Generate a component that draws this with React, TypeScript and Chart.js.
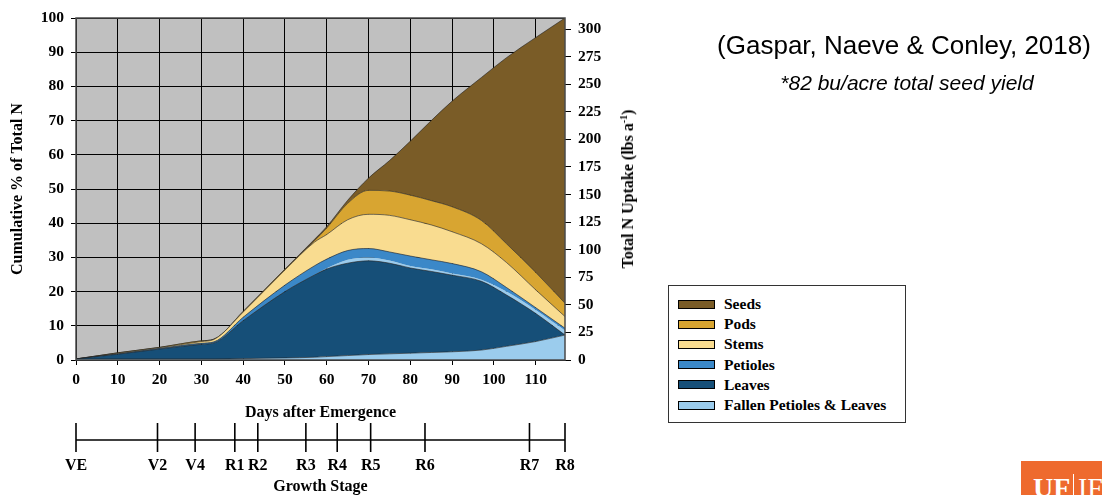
import React, { useEffect, useRef } from 'react';
import { Chart, registerables } from 'chart.js';

Chart.register(...registerables);

// Days after emergence at which the cumulative curves were read
const days = [0, 10, 20, 30, 33, 40, 50, 57, 60, 65, 70, 75, 80, 85, 90, 97, 103, 110, 117];

// Cumulative % of total N (top edge of each stacked layer)
const fallenPL = [0.3, 0.3, 0.3, 0.3, 0.3, 0.4, 0.6, 0.8, 1.0, 1.3, 1.6, 1.8, 2.0, 2.2, 2.4, 2.9, 4.0, 5.4, 7.3];
const leaves = [0.3, 1.7, 3.2, 4.6, 5.0, 11.5, 20.0, 24.8, 26.6, 28.3, 29.0, 28.3, 26.9, 25.9, 24.8, 23.0, 19.0, 13.6, 7.3];
const fallenUpper = [0.3, 1.7, 3.2, 4.6, 5.0, 11.5, 20.0, 24.8, 26.8, 29.3, 30.0, 29.1, 27.5, 26.5, 25.3, 23.5, 20.0, 14.6, 8.6];
const petioles = [0.3, 1.8, 3.4, 4.9, 5.3, 12.5, 21.9, 27.5, 29.5, 32.0, 32.6, 31.6, 30.4, 29.3, 28.2, 25.8, 21.2, 15.3, 9.3];
const stems = [0.3, 2.0, 3.6, 5.4, 6.0, 14.0, 26.3, 34.4, 36.7, 41.0, 42.6, 42.3, 41.0, 39.5, 37.5, 34.0, 28.5, 20.5, 12.7];
const pods = [0.3, 2.1, 3.7, 5.6, 6.1, 14.2, 26.6, 34.8, 38.6, 45.8, 49.6, 49.4, 48.2, 46.6, 44.8, 40.8, 34.0, 25.6, 16.6];
const seeds = [0.3, 2.1, 3.7, 5.6, 6.1, 14.2, 26.6, 35.2, 39.0, 46.7, 53.2, 58.3, 64.0, 70.0, 75.7, 82.6, 88.4, 94.3, 100];

// Growth stages along the day axis
const stageLabels = ['VE', 'V2', 'V4', 'R1', 'R2', 'R3', 'R4', 'R5', 'R6', 'R7', 'R8'];
const stageDays = [0, 19.5, 28.5, 38, 43.5, 55, 62.5, 70.5, 83.5, 108.5, 117];

const legendNames = ['Seeds', 'Pods', 'Stems', 'Petioles', 'Leaves', 'Fallen Petioles & Leaves'];

const C_SEEDS = '#7a5c27';
const C_PODS = '#d8a531';
const C_STEMS = '#f9dc90';
const C_PETIOLES = '#3b88c8';
const C_LEAVES = '#164f78';
const C_FALLEN = '#9bcced';
const C_PLOT = '#c0c0c0';
const legendColors = [C_SEEDS, C_PODS, C_STEMS, C_PETIOLES, C_LEAVES, C_FALLEN];

const SERIF = "'Liberation Serif', 'Times New Roman', serif";
const SANS = "'Liberation Sans', Arial, sans-serif";

export default function App() {
  const ref = useRef<HTMLCanvasElement>(null);

  useEffect(() => {
    const canvas = ref.current!;
    const mk = (label: string, vals: number[], color: string, fill: any, border = true) => ({
      label,
      data: days.map((d, i) => ({ x: d, y: vals[i] })),
      backgroundColor: color,
      borderColor: border ? 'rgba(30,30,30,0.85)' : 'rgba(0,0,0,0)',
      borderWidth: border ? 0.7 : 0,
      fill,
      pointRadius: 0,
      cubicInterpolationMode: 'monotone' as const,
      yAxisID: 'y',
    });

    const bgPlugin = {
      id: 'plotBg',
      beforeDraw(chart: any) {
        const { ctx, chartArea: a } = chart;
        ctx.save();
        ctx.fillStyle = C_PLOT;
        ctx.fillRect(a.left, a.top, a.right - a.left, a.bottom - a.top);
        ctx.restore();
      },
    };

    const framePlugin = {
      id: 'frame',
      afterDatasetsDraw(chart: any) {
        const { ctx, chartArea: a } = chart;
        ctx.save();
        ctx.strokeStyle = '#4a4a4a';
        ctx.lineWidth = 1.5;
        ctx.strokeRect(a.left, a.top, a.right - a.left, a.bottom - a.top);
        ctx.restore();
      },
    };

    const stagePlugin = {
      id: 'stages',
      afterDraw(chart: any) {
        const { ctx, chartArea: a } = chart;
        const xs = chart.scales.x;
        const lineY = 440;
        ctx.save();
        ctx.strokeStyle = '#000';
        ctx.lineWidth = 1.6;
        ctx.beginPath();
        ctx.moveTo(xs.getPixelForValue(stageDays[0]), lineY);
        ctx.lineTo(xs.getPixelForValue(stageDays[stageDays.length - 1]), lineY);
        ctx.stroke();
        ctx.fillStyle = '#000';
        ctx.font = `bold 16px ${SERIF}`;
        ctx.textAlign = 'center';
        ctx.textBaseline = 'middle';
        stageDays.forEach((d, i) => {
          const px = xs.getPixelForValue(d);
          ctx.beginPath();
          ctx.moveTo(px, 423);
          ctx.lineTo(px, 452);
          ctx.stroke();
          ctx.fillText(stageLabels[i], px, 466);
        });
        ctx.fillText('Growth Stage', (a.left + a.right) / 2, 487);
        ctx.restore();
      },
    };

    const tickFont = { family: SERIF, size: 15.5, weight: 'bold' as const };
    const titleFont = { family: SERIF, size: 16, weight: 'bold' as const };

    const chart = new Chart(canvas, {
      type: 'line',
      data: {
        datasets: [
          mk('Fallen Petioles & Leaves', fallenPL, C_FALLEN, 'origin'),
          mk('Leaves', leaves, C_LEAVES, '-1'),
          mk('', fallenUpper, C_FALLEN, '-1', false),
          mk('Petioles', petioles, C_PETIOLES, '-1'),
          mk('Stems', stems, C_STEMS, '-1'),
          mk('Pods', pods, C_PODS, '-1'),
          mk('Seeds', seeds, C_SEEDS, '-1'),
        ],
      },
      options: {
        responsive: false,
        animation: false,
        layout: { padding: { left: 0, right: 462, top: 18, bottom: 73 } },
        plugins: { legend: { display: false }, tooltip: { enabled: false } },
        scales: {
          x: {
            type: 'linear',
            min: 0,
            max: 117,
            afterFit(scale: any) { scale.height = 62; },
            ticks: { stepSize: 10, includeBounds: false, color: '#000', font: tickFont, padding: 6, maxRotation: 0 },
            grid: { color: '#000', lineWidth: 1, tickLength: 5 },
            border: { display: false },
            title: { display: true, text: 'Days after Emergence', color: '#000', font: titleFont, padding: { top: 0, bottom: 0 } },
          },
          y: {
            position: 'left',
            min: 0,
            max: 100,
            afterFit(scale: any) { scale.width = 76; },
            ticks: { stepSize: 10, color: '#000', font: tickFont, padding: 7 },
            grid: { color: '#000', lineWidth: 1, tickLength: 5 },
            border: { display: false },
            title: { display: true, text: 'Cumulative % of Total N', color: '#000', font: titleFont, padding: { top: 8, bottom: 0 } },
          },
          y2: {
            position: 'right',
            min: 0,
            max: 310,
            afterFit(scale: any) { scale.width = 75; },
            ticks: { stepSize: 25, includeBounds: false, color: '#000', font: tickFont, padding: 7 },
            grid: { drawOnChartArea: false, color: '#000', lineWidth: 1, tickLength: 6 },
            border: { display: false },
          },
        },
      },
      plugins: [bgPlugin, framePlugin, stagePlugin],
    } as any);

    return () => chart.destroy();
  }, []);

  return (
    <div style={{ position: 'absolute', left: 0, top: 0, width: 1102, height: 495, overflow: 'hidden', background: '#fff' }}>
      <canvas ref={ref} width={1102} height={495} style={{ position: 'absolute', left: 0, top: 0, width: 1102, height: 495 }} />

      <div
        style={{
          position: 'absolute', left: 628, top: 189, transform: 'translate(-50%, -50%) rotate(-90deg)',
          whiteSpace: 'nowrap', fontFamily: SERIF, fontWeight: 'bold', fontSize: 16, color: '#000', lineHeight: 1,
        }}
      >
        Total N Uptake (lbs a<sup style={{ fontSize: 10, verticalAlign: 'super', lineHeight: 0 }}>-1</sup>)
      </div>

      <div
        style={{
          position: 'absolute', left: 904, top: 45, transform: 'translate(-50%, -50%)', whiteSpace: 'nowrap',
          fontFamily: SANS, fontSize: 26, color: '#000', lineHeight: 1,
        }}
      >
        (Gaspar, Naeve &amp; Conley, 2018)
      </div>
      <div
        style={{
          position: 'absolute', left: 907, top: 82, transform: 'translate(-50%, -50%)', whiteSpace: 'nowrap',
          fontFamily: SANS, fontStyle: 'italic', fontSize: 21, color: '#000', lineHeight: 1,
        }}
      >
        *82 bu/acre total seed yield
      </div>

      <div
        style={{
          position: 'absolute', left: 668, top: 285, width: 238, height: 138, boxSizing: 'border-box',
          border: '1.5px solid #333', background: '#fff',
        }}
      />
      {legendNames.map((n, i) => (
        <div
          key={n}
          style={{
            position: 'absolute', left: 678, top: 294 + i * 20.2, height: 20, display: 'flex', alignItems: 'center',
            whiteSpace: 'nowrap', fontFamily: SERIF, fontWeight: 'bold', fontSize: 15.5, color: '#000',
          }}
        >
          <span style={{ display: 'inline-block', width: 37, height: 9, boxSizing: 'border-box', border: '1px solid #000', background: legendColors[i], marginRight: 9 }} />
          {n}
        </div>
      ))}

      <div
        style={{
          position: 'absolute', left: 1021, top: 461, width: 81, height: 34, overflow: 'hidden', background: '#ee6a2e',
          color: '#fff', fontFamily: SERIF, fontWeight: 'bold', fontSize: 28, lineHeight: 1, whiteSpace: 'nowrap',
        }}
      >
        <span style={{ position: 'absolute', left: 12, top: 13 }}>UF</span>
        <span style={{ position: 'absolute', left: 52, top: 13, borderLeft: '1px solid #fff', paddingLeft: 4, fontWeight: 'normal' }}>IFAS</span>
      </div>
    </div>
  );
}
